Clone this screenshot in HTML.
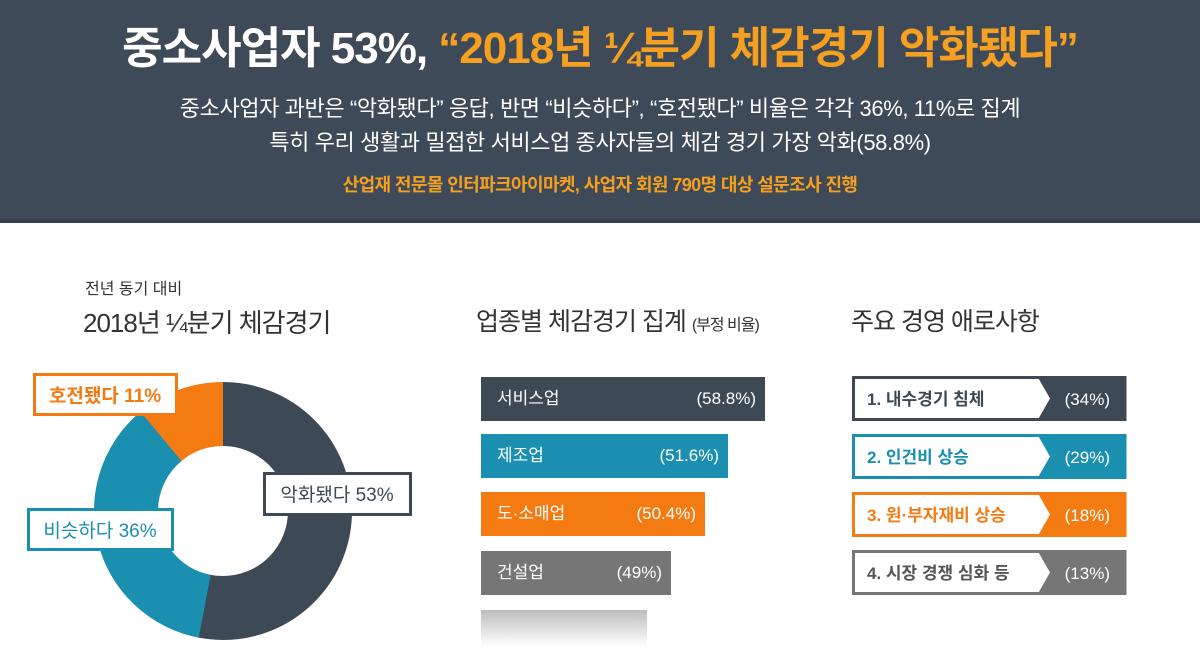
<!DOCTYPE html>
<html><head><meta charset="utf-8"><style>
body{margin:0;width:1200px;height:651px;background:#fff;overflow:hidden;position:relative;font-family:"Liberation Sans","Noto Sans CJK KR",sans-serif}
.hdr{position:absolute;left:0;top:0;width:1200px;height:219px;background:#3e4a57;border-bottom:4px solid #343f4a}
.c{position:absolute;left:0;width:1200px;text-align:center;white-space:nowrap}
.a{position:absolute;white-space:nowrap}
.bar{position:absolute;left:481px;height:44px;color:#fff;font-size:17px;line-height:44px}
.bar .l{position:absolute;left:16px}.bar .r{position:absolute;right:9px}
</style></head><body>
<div class="hdr"></div>
<div class="c" style="top:12px;font-size:44px;font-weight:bold;color:#fff;letter-spacing:-1px">중소사업자 53%, <span style="color:#f5a020">“2018년 ¼분기 체감경기 악화됐다”</span></div>
<div class="c" style="top:91px;font-size:22px;color:#fff;letter-spacing:-0.4px">중소사업자 과반은 “악화됐다” 응답, 반면 “비슷하다”, “호전됐다” 비율은 각각 36%, 11%로 집계</div>
<div class="c" style="top:125px;font-size:22px;color:#fff;letter-spacing:-0.4px">특히 우리 생활과 밀접한 서비스업 종사자들의 체감 경기 가장 악화(58.8%)</div>
<div class="c" style="top:171px;font-size:18px;color:#f5a020;font-weight:bold;letter-spacing:-0.6px">산업재 전문몰 인터파크아이마켓, 사업자 회원 790명 대상 설문조사 진행</div>

<div class="a" style="left:85px;top:275px;font-size:16px;color:#333">전년 동기 대비</div>
<div class="a" style="left:83px;top:303px;font-size:26px;color:#333;letter-spacing:-1px">2018년 ¼분기 체감경기</div>

<svg style="position:absolute;left:0;top:0" width="1200" height="651">
<g transform="rotate(-90 223 511)" fill="none" stroke-width="64">
<circle cx="223" cy="511" r="97" stroke="#3d4a56" stroke-dasharray="324 609.5"/>
<circle cx="223" cy="511" r="97" stroke="#1a8fb0" stroke-dasharray="0 323 220 609.5"/>
<circle cx="223" cy="511" r="97" stroke="#f47a12" stroke-dasharray="0 542 67.5 609.5"/>
</g>
<rect x="34.5" y="374.5" width="142" height="40" fill="#fff" stroke="#f47a12" stroke-width="3"/>
<text x="105" y="402" text-anchor="middle" font-size="19" fill="#f47a12" font-weight="bold">호전됐다 11%</text>
<rect x="264.5" y="473.5" width="146" height="41" fill="#fff" stroke="#3d4a56" stroke-width="3"/>
<text x="337" y="501" text-anchor="middle" font-size="19" fill="#3d4a56">악화됐다 53%</text>
<rect x="28.5" y="509.5" width="144" height="40" fill="#fff" stroke="#1a8fb0" stroke-width="3"/>
<text x="100" y="537" text-anchor="middle" font-size="19" fill="#1a8fb0">비슷하다 36%</text>
<defs><linearGradient id="fd" x1="0" y1="0" x2="0" y2="1"><stop offset="0" stop-color="#bdbdbd"/><stop offset="1" stop-color="#fff"/></linearGradient></defs>
<rect x="481" y="610" width="166" height="36" fill="url(#fd)"/>
<g font-size="17">
<g><polygon points="853.5,377.5 1038,377.5 1050,398.5 1038,419.5 853.5,419.5" fill="#fff"/>
<path d="M1038,377.5 L1125,377.5 L1125,419.5 L1038,419.5 L1050,398.5 Z" fill="#3d4a56"/>
<rect x="853.5" y="377.5" width="271.5" height="42" fill="none" stroke="#3d4a56" stroke-width="3"/>
<text x="867" y="405" fill="#3d4a56" font-weight="bold">1. 내수경기 침체</text><text x="1110" y="405" text-anchor="end" fill="#fff">(34%)</text></g>
<g transform="translate(0,58)"><polygon points="853.5,377.5 1038,377.5 1050,398.5 1038,419.5 853.5,419.5" fill="#fff"/>
<path d="M1038,377.5 L1125,377.5 L1125,419.5 L1038,419.5 L1050,398.5 Z" fill="#1a8fb0"/>
<rect x="853.5" y="377.5" width="271.5" height="42" fill="none" stroke="#1a8fb0" stroke-width="3"/>
<text x="867" y="405" fill="#1a8fb0" font-weight="bold">2. 인건비 상승</text><text x="1110" y="405" text-anchor="end" fill="#fff">(29%)</text></g>
<g transform="translate(0,116)"><polygon points="853.5,377.5 1038,377.5 1050,398.5 1038,419.5 853.5,419.5" fill="#fff"/>
<path d="M1038,377.5 L1125,377.5 L1125,419.5 L1038,419.5 L1050,398.5 Z" fill="#f47a12"/>
<rect x="853.5" y="377.5" width="271.5" height="42" fill="none" stroke="#f47a12" stroke-width="3"/>
<text x="867" y="405" fill="#f47a12" font-weight="bold">3. 원·부자재비 상승</text><text x="1110" y="405" text-anchor="end" fill="#fff">(18%)</text></g>
<g transform="translate(0,174)"><polygon points="853.5,377.5 1038,377.5 1050,398.5 1038,419.5 853.5,419.5" fill="#fff"/>
<path d="M1038,377.5 L1125,377.5 L1125,419.5 L1038,419.5 L1050,398.5 Z" fill="#767676"/>
<rect x="853.5" y="377.5" width="271.5" height="42" fill="none" stroke="#767676" stroke-width="3"/>
<text x="867" y="405" fill="#555" font-weight="bold">4. 시장 경쟁 심화 등</text><text x="1110" y="405" text-anchor="end" fill="#fff">(13%)</text></g>
</g>
</svg>

<div class="a" style="left:476px;top:302px;font-size:25px;color:#333;letter-spacing:-1px">업종별 체감경기 집계 <span style="font-size:16px">(부정 비율)</span></div>
<div class="a" style="left:851px;top:302px;font-size:25px;color:#333;letter-spacing:-1px">주요 경영 애로사항</div>

<div class="bar" style="top:377px;width:284px;background:#3d4a56"><span class="l">서비스업</span><span class="r">(58.8%)</span></div>
<div class="bar" style="top:434px;width:247px;background:#1a8fb0"><span class="l">제조업</span><span class="r">(51.6%)</span></div>
<div class="bar" style="top:492px;width:224px;background:#f47a12"><span class="l">도·소매업</span><span class="r">(50.4%)</span></div>
<div class="bar" style="top:551px;width:190px;background:#767676"><span class="l">건설업</span><span class="r">(49%)</span></div>
</body></html>
